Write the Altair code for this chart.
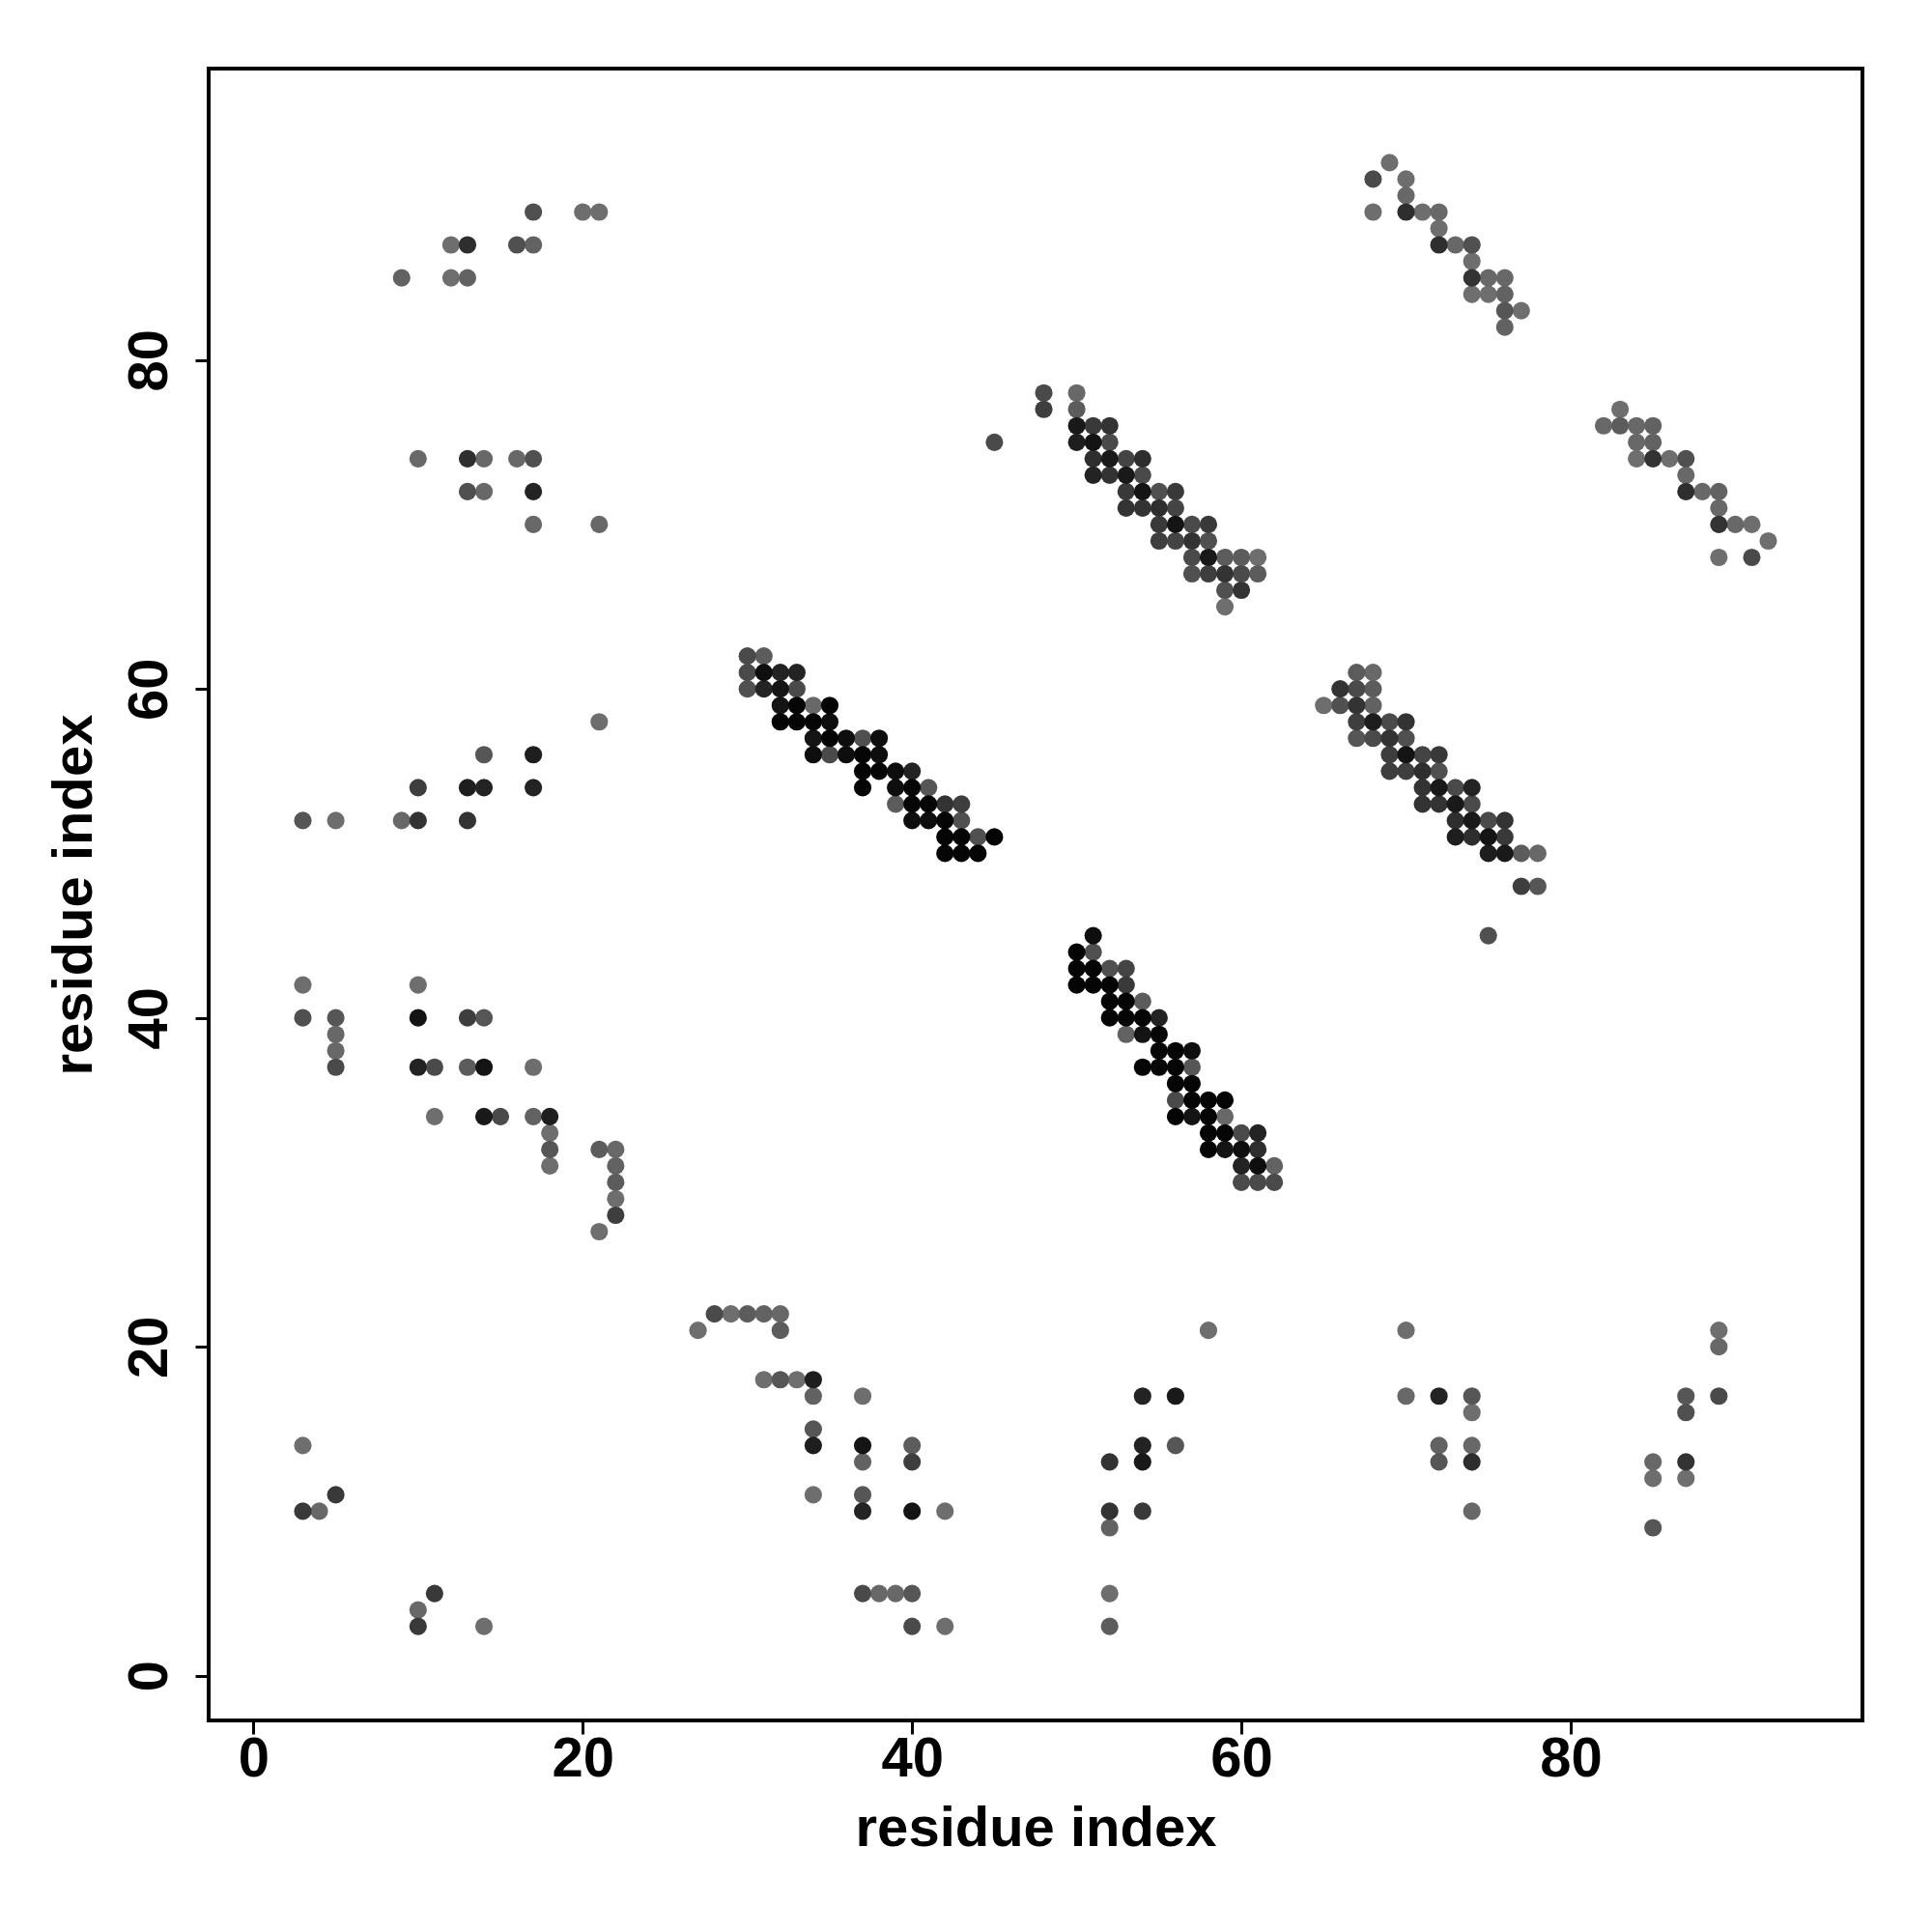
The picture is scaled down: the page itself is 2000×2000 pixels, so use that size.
import altair as alt
import pandas as pd

# (residue i, residue j, contact strength), grouped by region
top_left = [(17,89,0.35),(20,89,0.1),(21,89,0.1),
            (12,87,0.1),(13,87,0.65),(16,87,0.35),(17,87,0.2),
            (9,85,0.2),(12,85,0.1),(13,85,0.2),
            (10,74,0.15),(13,74,0.65),(14,74,0.15),(16,74,0.15),(17,74,0.35),
            (13,72,0.35),(14,72,0.15),(17,72,0.75),
            (17,70,0.15),(21,70,0.15)]
left_mid = [(21,58,0.1),
            (14,56,0.3),(17,56,0.8),
            (10,54,0.5),(13,54,0.8),(14,54,0.75),(17,54,0.75),
            (3,52,0.3),(5,52,0.1),(9,52,0.15),(10,52,0.6),(13,52,0.6),
            (3,42,0.1),(10,42,0.1),
            (3,40,0.35),(5,40,0.3),(10,40,0.9),(13,40,0.5),(14,40,0.3),
            (5,39,0.15),(5,38,0.15),
            (5,37,0.4),(10,37,0.75),(11,37,0.4),(13,37,0.25),(14,37,0.9),(17,37,0.1),
            (11,34,0.1),(14,34,0.85),(15,34,0.4),(17,34,0.2),(18,34,0.8),
            (18,33,0.1),
            (18,32,0.3),(21,32,0.25),(22,32,0.15),
            (18,31,0.1),(22,31,0.2),
            (22,30,0.25),(22,29,0.1),(22,28,0.5),(21,27,0.1)]
bottom_left = [(3,14,0.1),(5,11,0.55),(3,10,0.55),(4,10,0.15),
               (11,5,0.55),(10,4,0.15),(10,3,0.55),(14,3,0.1)]
strand_a = [(30,62,0.4),(31,62,0.25),
            (30,61,0.4),(31,61,0.95),(32,61,0.75),(33,61,0.75),
            (30,60,0.35),(31,60,0.75),(32,60,0.9),(33,60,0.4),
            (32,59,0.9),(33,59,1.0),(34,59,0.15),(35,59,1.0),
            (32,58,1.0),(33,58,1.0),(34,58,1.0),(35,58,0.95),
            (34,57,0.9),(35,57,1.0),(36,57,0.95),(37,57,0.35),(38,57,0.95),
            (34,56,0.95),(35,56,0.4),(36,56,0.95),(37,56,1.0),(38,56,0.95),
            (37,55,1.0),(38,55,1.0),(39,55,0.95),(40,55,0.75),
            (37,54,1.0),(39,54,0.95),(40,54,1.0),(41,54,0.3),
            (39,53,0.25),(40,53,1.0),(41,53,1.0),(42,53,0.6),(43,53,0.5),
            (40,52,0.95),(41,52,0.95),(42,52,1.0),(43,52,0.35),
            (42,51,1.0),(43,51,1.0),(44,51,0.35),(45,51,1.0),
            (42,50,1.0),(43,50,1.0),(44,50,1.0)]
strand_b = [(45,75,0.4),
            (48,78,0.4),(50,78,0.15),
            (48,77,0.5),(50,77,0.25),
            (50,76,0.85),(51,76,0.55),(52,76,0.6),
            (50,75,0.8),(51,75,0.9),(52,75,0.4),
            (51,74,0.65),(52,74,0.85),(53,74,0.45),(54,74,0.65),
            (51,73,0.75),(52,73,0.6),(53,73,0.85),(54,73,0.4),
            (53,72,0.55),(54,72,0.9),(55,72,0.35),(56,72,0.55),
            (53,71,0.6),(54,71,0.6),(55,71,0.65),(56,71,0.45),
            (55,70,0.55),(56,70,0.9),(57,70,0.4),(58,70,0.55),
            (55,69,0.5),(56,69,0.45),(57,69,0.6),(58,69,0.35),
            (57,68,0.4),(58,68,0.85),(59,68,0.25),(60,68,0.25),(61,68,0.1),
            (57,67,0.35),(58,67,0.5),(59,67,0.6),(60,67,0.4),(61,67,0.25),
            (59,66,0.35),(60,66,0.6),
            (59,65,0.1)]
strand_c = [(51,45,0.95),
            (50,44,1.0),(51,44,0.35),
            (50,43,1.0),(51,43,1.0),(52,43,0.35),(53,43,0.45),
            (50,42,1.0),(51,42,1.0),(52,42,1.0),(53,42,0.55),
            (52,41,1.0),(53,41,1.0),(54,41,0.25),
            (52,40,1.0),(53,40,1.0),(54,40,1.0),(55,40,0.75),
            (53,39,0.2),(54,39,0.9),(55,39,1.0),
            (55,38,1.0),(56,38,1.0),(57,38,0.95),
            (54,37,1.0),(55,37,1.0),(56,37,1.0),(57,37,0.3),
            (56,36,1.0),(57,36,1.0),
            (56,35,0.4),(57,35,1.0),(58,35,1.0),(59,35,1.0),
            (56,34,1.0),(57,34,0.9),(58,34,1.0),(59,34,0.15),
            (58,33,1.0),(59,33,1.0),(60,33,0.4),(61,33,0.75),
            (58,32,1.0),(59,32,0.9),(60,32,0.95),(61,32,0.65),
            (60,31,0.75),(61,31,0.95),(62,31,0.2),
            (60,30,0.4),(61,30,0.4),(62,30,0.4)]
strand_d = [(67,61,0.25),(68,61,0.15),
            (66,60,0.6),(67,60,0.4),(68,60,0.25),
            (65,59,0.1),(66,59,0.35),(67,59,0.6),(68,59,0.2),
            (67,58,0.5),(68,58,0.8),(69,58,0.4),(70,58,0.6),
            (67,57,0.3),(68,57,0.4),(69,57,0.6),(70,57,0.35),
            (69,56,0.5),(70,56,0.9),(71,56,0.45),(72,56,0.55),
            (69,55,0.5),(70,55,0.5),(71,55,0.65),(72,55,0.35),
            (71,54,0.6),(72,54,0.85),(73,54,0.4),(74,54,0.75),
            (71,53,0.6),(72,53,0.6),(73,53,0.85),(74,53,0.4),
            (73,52,0.65),(74,52,0.85),(75,52,0.4),(76,52,0.6),
            (73,51,0.8),(74,51,0.65),(75,51,0.9),(76,51,0.55),
            (75,50,0.8),(76,50,0.85),(77,50,0.25),(78,50,0.15),
            (77,48,0.5),(78,48,0.3),
            (75,45,0.35)]
top_right = [(69,92,0.1),
             (68,91,0.4),(70,91,0.1),
             (70,90,0.15),
             (68,89,0.1),(70,89,0.65),(71,89,0.1),(72,89,0.15),
             (72,88,0.1),
             (72,87,0.65),(73,87,0.15),(74,87,0.35),
             (74,86,0.1),
             (74,85,0.6),(75,85,0.15),(76,85,0.15),
             (74,84,0.1),(75,84,0.1),(76,84,0.2),
             (76,83,0.3),(77,83,0.1),
             (76,82,0.2)]
right_mid = [(83,77,0.1),
             (82,76,0.15),(83,76,0.25),(84,76,0.15),(85,76,0.2),
             (84,75,0.15),(85,75,0.2),
             (84,74,0.1),(85,74,0.6),(86,74,0.1),(87,74,0.35),
             (87,73,0.15),
             (87,72,0.65),(88,72,0.15),(89,72,0.2),
             (89,71,0.15),
             (89,70,0.6),(90,70,0.15),(91,70,0.1),
             (92,69,0.1),
             (89,68,0.1),(91,68,0.4)]
bottom_mid = [(28,22,0.4),(29,22,0.1),(30,22,0.25),(31,22,0.2),(32,22,0.15),
              (27,21,0.1),(32,21,0.25),
              (31,18,0.1),(32,18,0.3),(33,18,0.1),(34,18,0.8),
              (34,17,0.2),(37,17,0.1),
              (34,15,0.3),
              (34,14,0.8),(37,14,0.9),(40,14,0.25),
              (37,13,0.2),(40,13,0.5),
              (34,11,0.1),(37,11,0.3),
              (37,10,0.75),(40,10,0.9),(42,10,0.1),
              (37,5,0.4),(38,5,0.15),(39,5,0.15),(40,5,0.3),
              (40,3,0.4),(42,3,0.1)]
bottom_right = [(58,21,0.1),(70,21,0.1),
                (54,17,0.75),(56,17,0.85),(70,17,0.15),(72,17,0.75),(74,17,0.3),
                (74,16,0.1),
                (54,14,0.75),(56,14,0.3),(72,14,0.2),(74,14,0.15),
                (52,13,0.6),(54,13,0.85),(72,13,0.3),(74,13,0.65),
                (52,10,0.6),(54,10,0.55),(74,10,0.15),
                (52,9,0.2),(52,5,0.1),(52,3,0.25)]
far_right = [(89,21,0.1),(89,20,0.15),
             (87,17,0.3),(89,17,0.4),
             (87,16,0.35),
             (85,13,0.15),(87,13,0.6),
             (85,12,0.1),(87,12,0.1),
             (85,9,0.3)]

tick_values = [0, 20, 40, 60, 80]
axis_title = "residue index"

rows = (top_left + left_mid + bottom_left + strand_a + strand_b + strand_c +
        strand_d + top_right + right_mid + bottom_mid + bottom_right + far_right)
df = pd.DataFrame(rows, columns=["i", "j", "p"])

DOMAIN = [-2.72, 97.72]
FONT = "Liberation Sans"
FS = 58

chart = alt.Chart(df).mark_circle(size=330, opacity=1).encode(
    x=alt.X("i:Q", scale=alt.Scale(domain=DOMAIN, nice=False, zero=False),
            axis=alt.Axis(values=tick_values, title=axis_title, format="d",
                          labelBaseline="alphabetic", labelPadding=43,
                          titleY=129, titleBaseline="alphabetic")),
    y=alt.Y("j:Q", scale=alt.Scale(domain=DOMAIN, nice=False, zero=False),
            axis=alt.Axis(values=tick_values, title=axis_title, format="d",
                          labelAngle=270, labelAlign="center",
                          labelBaseline="alphabetic", labelPadding=30,
                          titleAngle=270, titleX=-122, titleY=855,
                          titleAlign="center", titleBaseline="alphabetic")),
    color=alt.Color("p:Q", scale=alt.Scale(domain=[0.1, 1.0],
                                           range=["#6e6e6e", "#050505"]),
                    legend=None),
    order=alt.Order("p:Q"),
).properties(
    width=1712, height=1710,
    background="white",
    autosize=alt.AutoSizeParams(type="none"),
    padding={"left": 208, "top": 63, "right": 60, "bottom": 200},
).configure_view(
    stroke="black", strokeWidth=4, fill="white"
).configure_axis(
    grid=False, domain=False,
    ticks=True, tickSize=14, tickWidth=3, tickColor="black",
    labelFont=FONT, labelFontSize=FS, labelFontWeight="bold", labelColor="black",
    titleFont=FONT, titleFontSize=FS, titleFontWeight="bold", titleColor="black",
    labelFlush=False, labelOverlap=False,
)

chart.save("out.html", embed_options={"renderer": "svg", "actions": False})
